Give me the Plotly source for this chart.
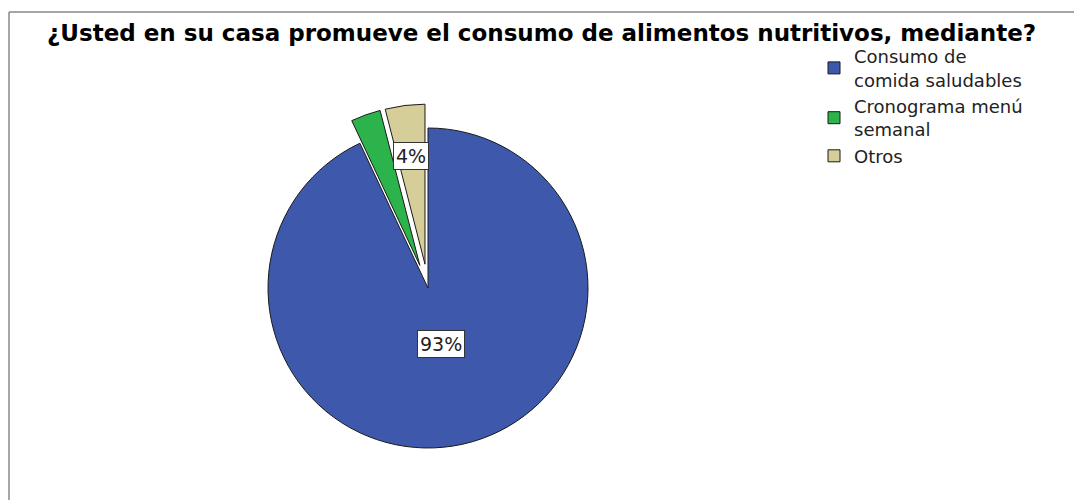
import math
import plotly.graph_objects as go

title = "¿Usted en su casa promueve el consumo de alimentos nutritivos, mediante?"
categories = ["Consumo de<br>comida saludables", "Cronograma menú<br>semanal", "Otros"]
values = [93, 3, 4]
colors = ["#3E58AC", "#2DB34B", "#D5CE99"]
pulls = [0, 0.15, 0.15]
label_radius = [0.36, None, 0.68]   # None: label not shown

# page has an 8px body margin; figure is sized to fit the 1082x500 window
W, H = 1074, 492
cx, cy, r = 420, 280, 160
half = r * (1 + max(pulls))
FONT = "DejaVu Sans, Liberation Sans, Arial"

fig = go.Figure(go.Pie(
    labels=categories,
    values=values,
    sort=False,
    direction="clockwise",
    rotation=0,
    pull=pulls,
    textinfo="none",
    marker=dict(colors=colors, line=dict(color="#1a1a1a", width=1)),
    domain=dict(x=[(cx - half) / W, (cx + half) / W],
                y=[(H - cy - half) / H, (H - cy + half) / H]),
    hoverinfo="label+percent",
))

total = sum(values)
cum = 0.0
for v, lr, p in zip(values, label_radius, pulls):
    frac = v / total
    mid = (cum + frac / 2) * 2 * math.pi
    cum += frac
    if lr is None:
        continue
    d = (lr + p) * r
    px = cx + d * math.sin(mid)
    py = cy - d * math.cos(mid)
    fig.add_annotation(x=px / W, y=1 - py / H, xref="paper", yref="paper",
                       xanchor="center", yanchor="middle",
                       text=f"{frac * 100:.0f}%", showarrow=False,
                       font=dict(family=FONT, size=19, color="#222"),
                       bgcolor="white", bordercolor="#333", borderwidth=1, borderpad=2)

fig.add_annotation(x=533 / W, y=1 - 25 / H, xref="paper", yref="paper",
                   xanchor="center", yanchor="middle",
                   text="<b>" + title + "</b>", showarrow=False,
                   font=dict(family=FONT, size=23, color="black"))

fig.add_shape(type="line", xref="paper", yref="paper",
              x0=1 / W, y0=1 - 4 / H, x1=1, y1=1 - 4 / H,
              line=dict(color="#888", width=1.5))
fig.add_shape(type="line", xref="paper", yref="paper",
              x0=1 / W, y0=1 - 4 / H, x1=1 / W, y1=0,
              line=dict(color="#888", width=1.5))

fig.update_layout(
    width=W, height=H,
    margin=dict(l=0, r=0, t=0, b=0),
    paper_bgcolor="white",
    plot_bgcolor="white",
    showlegend=True,
    legend=dict(x=806 / W, y=1 - 30 / H, xanchor="left", yanchor="top",
                font=dict(family=FONT, size=18, color="#222"),
                tracegroupgap=0, itemwidth=30, bgcolor="rgba(0,0,0,0)"),
    font=dict(family=FONT),
)

fig.write_html("out.html")
